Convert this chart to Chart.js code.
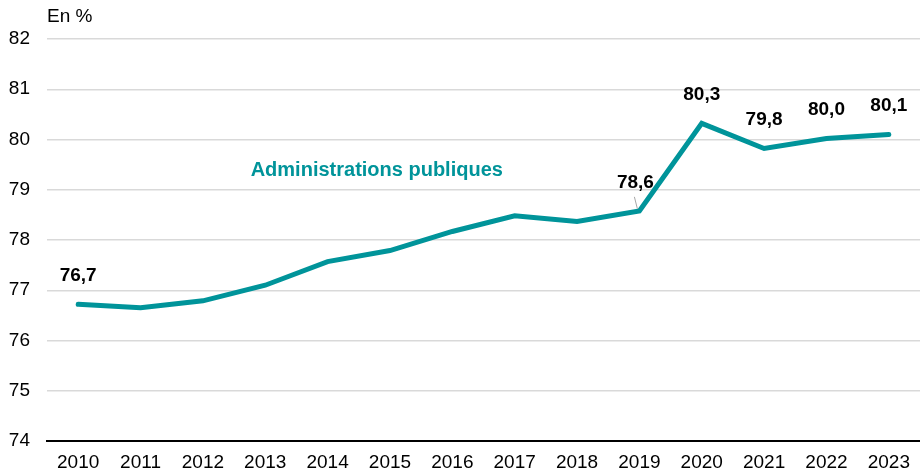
<!DOCTYPE html>
<html>
<head>
<meta charset="utf-8">
<script src="https://cdn.jsdelivr.net/npm/chart.js@4"></script>
<style>
html,body{margin:0;padding:0;background:#fff;}
#wrap{width:920px;height:475px;position:relative;}
</style>
</head>
<body>
<div id="wrap"><canvas id="c" width="920" height="475"></canvas></div>
<script>
const categories = ['2010','2011','2012','2013','2014','2015','2016','2017','2018','2019','2020','2021','2022','2023'];
const values = [76.72, 76.65, 76.79, 77.10, 77.57, 77.79, 78.17, 78.48, 78.37, 78.58, 80.32, 79.82, 80.02, 80.10];
const labelledIndices = [0, 9, 10, 11, 12, 13];
const labelTexts = ['76,7', '78,6', '80,3', '79,8', '80,0', '80,1'];
const yTicks = [74, 75, 76, 77, 78, 79, 80, 81, 82];
const seriesName = 'Administrations publiques';
const unitLabel = 'En %';

const TEAL = '#00949a';
const FONT = '"Liberation Sans", Arial, sans-serif';

const annot = {
  id: 'annot',
  afterDatasetsDraw(chart) {
    const ctx = chart.ctx;
    const xs = chart.scales.x, ys = chart.scales.y;
    ctx.save();
    ctx.font = '19px ' + FONT;
    ctx.fillStyle = '#000';
    ctx.textAlign = 'left';
    ctx.textBaseline = 'middle';
    ctx.fillText(unitLabel, chart.chartArea.left, 17);
    ctx.font = 'bold 19px ' + FONT;
    ctx.textAlign = 'center';
    labelledIndices.forEach((idx, k) => {
      const px = xs.getPixelForValue(idx);
      const py = ys.getPixelForValue(values[idx]);
      let dx = 0, dy = 29;
      if (idx === 9) {
        dx = -4; dy = 28;
        ctx.strokeStyle = '#a6a6a6';
        ctx.lineWidth = 1;
        ctx.beginPath();
        ctx.moveTo(px - 5, py - 14);
        ctx.lineTo(px - 2, py - 2);
        ctx.stroke();
      }
      ctx.fillStyle = '#000';
      ctx.fillText(labelTexts[k], px + dx, py - dy);
    });
    ctx.font = 'bold 20px ' + FONT;
    ctx.fillStyle = TEAL;
    ctx.textAlign = 'center';
    const sx = (xs.getPixelForValue(4) + xs.getPixelForValue(5)) / 2 + 18;
    const sy = ys.getPixelForValue(79.38);
    ctx.fillText(seriesName, sx, sy);
    ctx.restore();
  }
};

new Chart(document.getElementById('c'), {
  type: 'line',
  data: {
    labels: categories,
    datasets: [{
      label: seriesName,
      data: values,
      borderColor: TEAL,
      backgroundColor: TEAL,
      borderWidth: 5,
      pointRadius: 0,
      tension: 0,
      borderJoinStyle: 'miter',
      borderCapStyle: 'round'
    }]
  },
  options: {
    responsive: false,
    animation: false,
    events: [],
    layout: { padding: { top: 39, left: 0, right: 0, bottom: 0 } },
    plugins: { legend: { display: false }, tooltip: { enabled: false }, title: { display: false } },
    scales: {
      x: {
        offset: true,
        grid: { display: false, drawTicks: false },
        border: { display: true, color: '#000', width: 2 },
        ticks: { color: '#000', font: { family: FONT, size: 19 }, padding: 10, maxRotation: 0, autoSkip: false },
        afterFit(s) { s.height = 34; }
      },
      y: {
        min: 74, max: 82,
        afterBuildTicks(s) { s.ticks = yTicks.map(v => ({ value: v })); },
        grid: { color: '#d9d9d9', lineWidth: 1.5, drawTicks: false },
        border: { display: false },
        ticks: { color: '#000', font: { family: FONT, size: 19 }, padding: 17 },
        afterFit(s) { s.width = 47; }
      }
    }
  },
  plugins: [annot]
});
</script>
</body>
</html>
